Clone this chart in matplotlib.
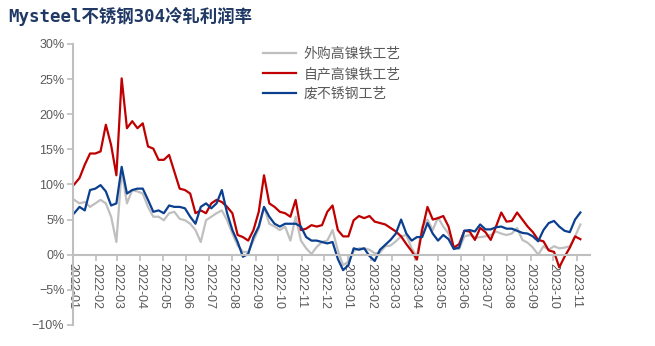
import numpy as np
import pandas as pd
import matplotlib
matplotlib.use("Agg")
import matplotlib.pyplot as plt
import matplotlib.dates as mdates
from matplotlib.ticker import FuncFormatter

plt.rcParams['font.family'] = ['Liberation Sans', 'Noto Sans CJK SC', 'DejaVu Sans']

# weekly sample dates (axis categories)
dates = pd.date_range("2022-01-03", periods=97, freq="7D")

# 外购高镍铁工艺 (%)
grey_vals = [7.8, 7.3, 7.5, 6.8, 7.3, 7.8, 7.3, 5.4, 1.8, 12.0,
             7.3, 9.2, 9.0, 8.7, 6.8, 5.4, 5.4, 4.9, 5.9, 6.1,
             5.1, 4.9, 4.4, 3.5, 1.8, 4.9, 5.4, 5.9, 6.3, 4.9,
             3.0, 1.3, 0.4, 0.4, 2.0, 3.7, 6.8, 4.4, 4.0, 3.5,
             4.0, 2.0, 5.4, 2.0, 0.9, 0.1, 1.1, 1.8, 2.0, 3.5,
             0.6, -1.5, -1.0, 0.5, 0.9, 0.9, 0.7, 0.2, 0.3, 1.2,
             1.3, 1.9, 2.6, 2.8, 0.9, -0.3, 4.0, 5.0, 3.5, 5.3,
             4.0, 3.0, 1.0, 0.8, 2.6, 2.8, 2.4, 2.5, 2.6, 2.8,
             3.3, 3.0, 2.8, 3.0, 3.8, 2.1, 1.7, 1.0, 0.0, 1.2,
             0.7, 1.2, 0.9, 1.0, 1.2, 2.6, 4.3]

# 自产高镍铁工艺 (%)
red_vals = [10.0, 10.9, 12.8, 14.4, 14.4, 14.7, 18.5, 15.6, 11.3, 25.1,
            18.0, 19.0, 18.0, 18.7, 15.4, 15.1, 13.5, 13.5, 14.2, 11.8,
            9.4, 9.2, 8.7, 5.9, 6.3, 5.9, 7.3, 7.8, 7.5, 6.8,
            5.9, 2.8, 2.5, 2.0, 3.5, 6.1, 11.3, 7.3, 6.8, 6.1,
            5.9, 5.4, 7.8, 3.5, 3.7, 4.2, 4.0, 4.2, 6.1, 7.0,
            3.5, 2.6, 2.6, 4.9, 5.5, 5.2, 5.5, 4.7, 4.5, 4.3,
            3.8, 3.3, 2.6, 1.5, 0.5, -0.7, 3.5, 6.8, 5.0, 5.2,
            5.5, 4.0, 1.0, 1.5, 3.4, 3.3, 2.1, 3.8, 3.2, 2.1,
            4.0, 6.0, 4.7, 4.8, 6.0, 5.0, 4.0, 3.2, 2.1, 1.9,
            0.6, 0.4, -1.8, -0.3, 1.0, 2.6, 2.2]

# 废不锈钢工艺 (%)
blue_vals = [5.9, 6.8, 6.3, 9.2, 9.4, 9.9, 9.0, 7.0, 7.3, 12.5,
             8.7, 9.2, 9.4, 9.4, 7.8, 6.1, 6.3, 5.9, 7.0, 6.8,
             6.8, 6.6, 5.4, 4.4, 6.8, 7.3, 6.6, 7.3, 9.2, 5.9,
             3.5, 1.8, -0.3, 0.1, 2.5, 4.0, 6.8, 5.4, 4.4, 4.0,
             4.4, 4.4, 4.4, 4.0, 2.5, 2.0, 2.0, 1.8, 1.6, 1.8,
             -0.6, -2.2, -1.5, 0.9, 0.7, 0.9, -0.2, -0.9, 0.7, 1.4,
             2.1, 3.0, 5.0, 3.0, 2.0, 2.5, 2.5, 4.5, 3.0, 2.0,
             2.8, 2.2, 0.8, 1.0, 3.4, 3.5, 3.3, 4.3, 3.6, 3.6,
             3.9, 4.0, 3.7, 3.7, 3.4, 3.1, 3.0, 2.6, 1.9, 3.5,
             4.5, 4.8, 4.0, 3.4, 3.2, 5.0, 6.0]

labels = ["外购高镍铁工艺", "自产高镍铁工艺", "废不锈钢工艺"]
colors = ["#BFBFBF", "#C00000", "#0B3F8F"]

fig = plt.figure(figsize=(6.55, 3.46), dpi=100)
ax = fig.add_axes([0.111, 0.061, 0.79, 0.812])

for vals, lab, col in zip([grey_vals, red_vals, blue_vals], labels, colors):
    ax.plot(dates, vals, color=col, lw=1.6, label=lab)

ax.set_ylim(-10, 30)
ax.set_yticks(range(-10, 31, 5))
ax.yaxis.set_major_formatter(FuncFormatter(lambda v, p: f"{v:.0f}%".replace("-", "\u2212")))
ax.set_xlim(pd.Timestamp("2022-01-01"), pd.Timestamp("2023-11-19"))
ax.xaxis.set_major_locator(mdates.MonthLocator())
ax.xaxis.set_major_formatter(mdates.DateFormatter("%Y-%m"))

for s in ["top", "right"]:
    ax.spines[s].set_visible(False)
ax.spines["bottom"].set_position(("data", 0))
for s in ["left", "bottom"]:
    ax.spines[s].set_color("#BFBFBF")
    ax.spines[s].set_linewidth(1.5)

ax.tick_params(axis="y", colors="#BFBFBF", labelcolor="#595959", labelsize=9,
               length=4, width=1.2, direction="out", pad=2)
ax.tick_params(axis="x", colors="#BFBFBF", labelcolor="#595959", labelsize=9,
               length=4, width=1.2, direction="out", pad=2)
for t in ax.get_xticklabels():
    t.set_rotation(270)
    t.set_ha("center")
    t.set_va("top")

leg = ax.legend(loc="upper left", bbox_to_anchor=(0.393, 0.88), bbox_transform=fig.transFigure,
                frameon=False, fontsize=10, handlelength=2.4, handletextpad=0.55,
                labelspacing=0.42, borderaxespad=0)
for t in leg.get_texts():
    t.set_color("#595959")

fig.text(0.012, 0.952, "Mysteel不锈钢304冷轧利润率", fontsize=12.5, fontweight="bold",
         color="#1F3864", ha="left", va="center",
         family=["DejaVu Sans Mono", "Noto Sans CJK SC"])

fig.savefig("out.png", dpi=100)
